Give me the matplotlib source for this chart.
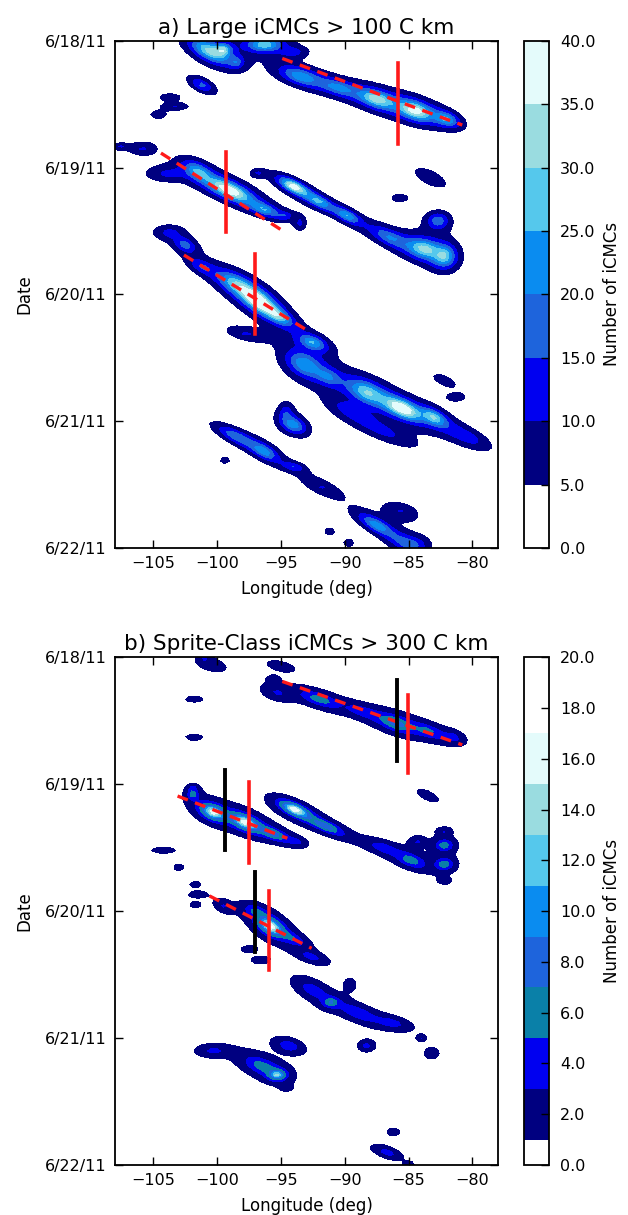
import numpy as np
import matplotlib
matplotlib.use("Agg")
import matplotlib.pyplot as plt

plt.rcParams["font.family"] = ["DejaVu Sans"]

# axes values
date_labels = ["6/18/11", "6/19/11", "6/20/11", "6/21/11", "6/22/11"]
lon_ticks = [-105, -100, -95, -90, -85, -80]

# panel a: storm cells (lon deg, day since 6/18, spread lon, spread day, tilt, peak count)
a_lon = [-100.6, -99.5, -98.5, -96.3, -94.0, -101.2, -103.7, -103.3, -104.6,
         -93.5, -90.5, -87.5, -84.5, -82.0, -107.6, -105.8, -104.0, -101.5, -99.0,
         -96.3, -94.7, -94.0, -92.0, -89.8, -86.5, -83.8, -82.2, -82.7, -83.3,
         -85.7, -96.8, -93.5, -103.8, -102.5, -101.2, -98.5, -96.8, -95.2, -97.8,
         -92.5, -93.2, -91.3, -88.3, -85.5, -83.0, -87.0, -80.5, -89.5, -82.2,
         -81.3, -98.5, -96.3, -94.0, -94.0, -94.6, -91.8, -99.4, -87.5, -85.4,
         -85.6, -84.5, -91.2, -89.7]
a_day = [0.08, 0.07, 0.17, 0.03, 0.09, 0.35, 0.445, 0.52, 0.585,
         0.28, 0.37, 0.46, 0.55, 0.62, 0.835, 0.85, 1.05, 1.03, 1.18,
         1.33, 1.38, 1.15, 1.27, 1.38, 1.55, 1.64, 1.70, 1.42, 1.08,
         1.24, 1.045, 1.44, 1.51, 1.61, 1.78, 1.92, 2.05, 2.17, 2.31,
         2.38, 2.55, 2.65, 2.77, 2.90, 2.97, 3.08, 3.12, 2.92, 2.68,
         2.81, 3.12, 3.24, 3.36, 3.03, 2.93, 3.52, 3.31, 3.82, 3.95,
         3.71, 3.98, 3.87, 3.96]
a_sx = [1.4, 0.5, 0.5, 1.3, 1.0, 0.9, 0.8, 1.1, 0.6,
        1.5, 1.5, 1.3, 1.3, 0.9, 0.6, 1.0, 1.6, 1.0, 1.6,
        1.0, 0.6, 1.0, 1.0, 0.9, 1.5, 1.2, 0.8, 0.8, 1.3,
        0.7, 0.5, 0.4, 1.2, 0.8, 1.0, 1.4, 1.2, 1.0, 1.5,
        1.0, 1.3, 1.0, 1.4, 1.3, 0.9, 2.5, 1.8, 1.5, 0.9,
        0.7, 1.5, 1.0, 0.8, 0.9, 0.5, 1.6, 0.4, 1.3, 1.2,
        1.4, 1.1, 0.4, 0.4]
a_sy = [0.07, 0.04, 0.04, 0.05, 0.04, 0.045, 0.028, 0.028, 0.028,
        0.06, 0.055, 0.06, 0.065, 0.05, 0.025, 0.05, 0.06, 0.06, 0.06,
        0.04, 0.03, 0.04, 0.04, 0.04, 0.06, 0.07, 0.08, 0.06, 0.06,
        0.03, 0.03, 0.05, 0.055, 0.05, 0.05, 0.07, 0.07, 0.05, 0.05,
        0.05, 0.09, 0.06, 0.08, 0.06, 0.05, 0.07, 0.07, 0.06, 0.04,
        0.03, 0.05, 0.05, 0.03, 0.06, 0.07, 0.06, 0.025, 0.05, 0.06,
        0.07, 0.07, 0.03, 0.03]
a_tilt = [0.04, 0, 0, 0, 0, 0.04, 0, 0, 0,
          0.027, 0.027, 0.027, 0.027, 0.027, 0, 0, 0, 0.04, 0.04,
          0.03, 0, 0.045, 0.045, 0.045, 0.04, 0.02, 0, 0, 0.04,
          0, 0, 0, 0, 0.03, 0.04, 0.045, 0.05, 0.05, 0.02,
          0.03, 0.03, 0.03, 0.035, 0.04, 0.04, 0.04, 0.04, 0.04, 0.04,
          0, 0.045, 0.045, 0.02, 0.03, 0, 0.04, 0, 0.05, 0.03,
          0.02, 0, 0, 0]
a_peak = [30, 22, 12, 28, 9.5, 16, 9.3, 9.3, 9.3,
          22, 18, 30, 36, 22, 9.3, 9.5, 9.5, 20, 40,
          20, 9.5, 38, 22, 22, 18, 28, 24, 18, 9.5,
          9, 9, 9.5, 9.5, 16, 12, 24, 40, 24, 9.5,
          22, 22, 14, 26, 40, 24, 9.5, 12, 9.5, 9.3,
          9, 18, 20, 12, 22, 10, 9.5, 9, 22, 9.5,
          9.5, 9.5, 9, 9]

# panel b: sprite-class cells
b_lon = [-100.4, -101.0, -95.0, -95.6, -101.8, -101.8, -95.3, -92.0, -88.5, -86.0,
         -83.5, -81.5, -83.5, -101.9, -101.9, -100.3, -97.8, -95.6, -93.8, -93.9,
         -91.5, -104.2, -87.0, -84.8, -84.3, -82.2, -82.2, -82.2, -82.2, -103.0,
         -101.7, -101.5, -101.7, -99.5, -97.0, -95.8, -94.0, -97.5, -96.6, -92.6,
         -92.5, -91.1, -89.6, -89.0, -86.3, -84.0, -83.2, -88.3, -94.4, -100.3,
         -96.5, -95.3, -94.6, -86.2, -86.7, -85.0]
b_day = [0.06, 0.0, 0.07, 0.17, 0.33, 0.63, 0.28, 0.33, 0.43, 0.52,
         0.58, 0.63, 1.09, 1.08, 1.03, 1.22, 1.30, 1.39, 1.45, 1.20,
         1.33, 1.52, 1.50, 1.60, 1.45, 1.37, 1.48, 1.63, 1.76, 1.655,
         1.79, 1.87, 1.95, 1.96, 2.00, 2.12, 2.22, 2.30, 2.385, 2.36,
         2.62, 2.72, 2.58, 2.80, 2.88, 3.00, 3.12, 3.06, 3.06, 3.10,
         3.22, 3.29, 3.39, 3.74, 3.90, 4.00]
b_sx = [0.9, 0.4, 0.9, 0.35, 0.6, 0.6, 1.0, 1.4, 1.3, 1.2,
        1.2, 0.7, 0.7, 0.35, 0.3, 0.8, 0.9, 1.0, 0.6, 0.9,
        1.2, 0.8, 1.2, 1.0, 0.5, 0.5, 0.6, 0.6, 0.4, 0.35,
        0.35, 0.6, 0.35, 0.6, 0.8, 0.8, 0.9, 0.5, 0.5, 1.0,
        1.2, 0.5, 0.35, 1.4, 1.2, 0.3, 0.45, 0.5, 0.9, 1.1,
        1.3, 0.5, 0.35, 0.4, 0.9, 0.3]
b_sy = [0.04, 0.03, 0.03, 0.02, 0.02, 0.02, 0.05, 0.045, 0.04, 0.05,
        0.045, 0.04, 0.03, 0.035, 0.02, 0.045, 0.045, 0.035, 0.025, 0.035,
        0.035, 0.02, 0.04, 0.045, 0.03, 0.025, 0.04, 0.04, 0.02, 0.02,
        0.02, 0.02, 0.02, 0.04, 0.04, 0.05, 0.04, 0.02, 0.02, 0.035,
        0.06, 0.03, 0.04, 0.05, 0.04, 0.02, 0.035, 0.035, 0.045, 0.04,
        0.06, 0.03, 0.02, 0.025, 0.035, 0.02]
b_tilt = [0.02, 0, 0.02, 0, 0, 0, 0.02, 0.03, 0.03, 0.03,
          0.03, 0.02, 0.04, 0, 0, 0.03, 0.035, 0.035, 0.02, 0.04,
          0.04, 0, 0.03, 0.03, 0, 0, 0, 0, 0, 0,
          0, 0, 0, 0.03, 0.03, 0.04, 0.04, 0, 0, 0.03,
          0.04, 0, 0, 0.035, 0.02, 0, 0, 0, 0.02, 0,
          0.03, 0, 0, 0, 0.03, 0]
b_peak = [2.8, 2.8, 2.7, 2.5, 2.6, 2.5, 2.9, 6, 3.8, 7.5,
          5, 3.2, 2.9, 6, 2.8, 16, 16, 8, 3.0, 17,
          8, 2.7, 4, 6, 3.2, 2.9, 6.5, 6.5, 2.7, 2.5,
          2.5, 2.7, 2.5, 3.0, 4.5, 17, 4, 2.8, 3.6, 3.6,
          4, 6, 2.7, 4.5, 3.6, 2.7, 3.0, 3.8, 4.5, 3.4,
          6, 12, 2.8, 2.9, 4, 2.8]

# fitted tracks (dashed) and marked longitudes (vertical bars)
a_fit_lon = [(-94.9, -80.8), (-104.4, -95.0), (-102.6, -93.0)]
a_fit_day = [(0.14, 0.665), (0.886, 1.49), (1.69, 2.28)]
a_red_lon = [-85.87, -99.3, -97.0]
a_red_day = [(0.178, 0.815), (0.875, 1.506), (1.68, 2.31)]

b_fit_lon = [(-94.9, -80.8), (-103.1, -94.5), (-100.6, -92.6)]
b_fit_day = [(0.19, 0.69), (1.093, 1.426), (1.88, 2.293)]
b_black_lon = [-85.9, -99.4, -97.06]
b_black_day = [(0.18, 0.82), (0.89, 1.52), (1.69, 2.32)]
b_red_lon = [-85.05, -97.5, -95.9]
b_red_day = [(0.30, 0.915), (0.98, 1.62), (1.84, 2.46)]

a_levels = [0, 5, 10, 15, 20, 25, 30, 35, 40]
b_levels = [0, 1, 3, 5, 7, 9, 11, 13, 15, 17, 20]
a_colors = ["#ffffff", "#000080", "#0000f0", "#1e64dc", "#0a8cf0",
            "#55c8ec", "#9adce0", "#e4fbfb"]
b_colors = ["#ffffff", "#000080", "#0000f0", "#0a80a8", "#1e64dc",
            "#0a8cf0", "#55c8ec", "#9adce0", "#e4fbfb", "#ffffff"]

lon = np.arange(-108, -77.9, 0.25)
day = np.arange(0, 4.001, 1 / 48)
LON, DAY = np.meshgrid(lon, day)


def build(lons, days, sxs, sys_, tilts, peaks):
    z = np.zeros_like(LON)
    for lo, d, sx, sy, t, p in zip(lons, days, sxs, sys_, tilts, peaks):
        dx = (LON - lo) / sx
        dy = (DAY - d - t * (LON - lo)) / sy
        z += p / (1 + 0.5 * (dx ** 2 + dy ** 2)) ** 2
    return z


za = np.clip(build(a_lon, a_day, a_sx, a_sy, a_tilt, a_peak), 0, 39.9)
zb = np.clip(build(b_lon, b_day, b_sx, b_sy, b_tilt, b_peak), 0, 19.9)

fig = plt.figure(figsize=(6.28, 12.15), dpi=100)
W, H = 628.0, 1215.0
ax_a = fig.add_axes([115 / W, 1 - 548 / H, 383 / W, 507.3 / H])
cax_a = fig.add_axes([524 / W, 1 - 548 / H, 25 / W, 507.3 / H])
ax_b = fig.add_axes([115 / W, 1 - 1165 / H, 383 / W, 507.7 / H])
cax_b = fig.add_axes([524 / W, 1 - 1165 / H, 25 / W, 507.7 / H])


def style(ax, title):
    ax.set_xlim(-108, -78)
    ax.set_ylim(4, 0)
    ax.set_xticks(lon_ticks)
    ax.set_xticklabels([f"\u2212{abs(v)}" for v in lon_ticks])
    ax.set_yticks(range(5))
    ax.set_yticklabels(date_labels)
    ax.tick_params(direction="in", top=True, right=True, length=6,
                   width=1, labelsize=11.5, pad=6)
    for s in ax.spines.values():
        s.set_linewidth(1.3)
    ax.set_xlabel("Longitude (deg)", fontsize=12, labelpad=6)
    ax.set_ylabel("Date", fontsize=12, labelpad=8)
    ax.set_title(title, fontsize=15.5, pad=5)


def cbar(cs, cax, ticks):
    cb = fig.colorbar(cs, cax=cax, ticks=ticks, spacing="proportional",
                      format="%.1f")
    cb.outline.set_linewidth(1.3)
    cb.ax.tick_params(direction="in", length=6, width=1, labelsize=11.5, pad=8)
    cb.set_label("Number of iCMCs", fontsize=12, labelpad=5)
    return cb


cs_a = ax_a.contourf(LON, DAY, za, levels=a_levels, colors=a_colors)
for (x0, x1), (y0, y1) in zip(a_fit_lon, a_fit_day):
    ax_a.plot([x0, x1], [y0, y1], color="#ff1a1a", lw=2.4, dashes=(3.3, 2.3))
for x, (y0, y1) in zip(a_red_lon, a_red_day):
    ax_a.plot([x, x], [y0, y1], color="#ff1a1a", lw=2.6)
style(ax_a, "a) Large iCMCs > 100 C km")
cbar(cs_a, cax_a, a_levels)

cs_b = ax_b.contourf(LON, DAY, zb, levels=b_levels, colors=b_colors)
for (x0, x1), (y0, y1) in zip(b_fit_lon, b_fit_day):
    ax_b.plot([x0, x1], [y0, y1], color="#ff1a1a", lw=2.4, dashes=(3.3, 2.3))
for x, (y0, y1) in zip(b_black_lon, b_black_day):
    ax_b.plot([x, x], [y0, y1], color="black", lw=2.8)
for x, (y0, y1) in zip(b_red_lon, b_red_day):
    ax_b.plot([x, x], [y0, y1], color="#ff1a1a", lw=2.6)
style(ax_b, "b) Sprite-Class iCMCs > 300 C km")
cbar(cs_b, cax_b, list(range(0, 21, 2)))

fig.savefig("out.png", dpi=100, facecolor="white")
